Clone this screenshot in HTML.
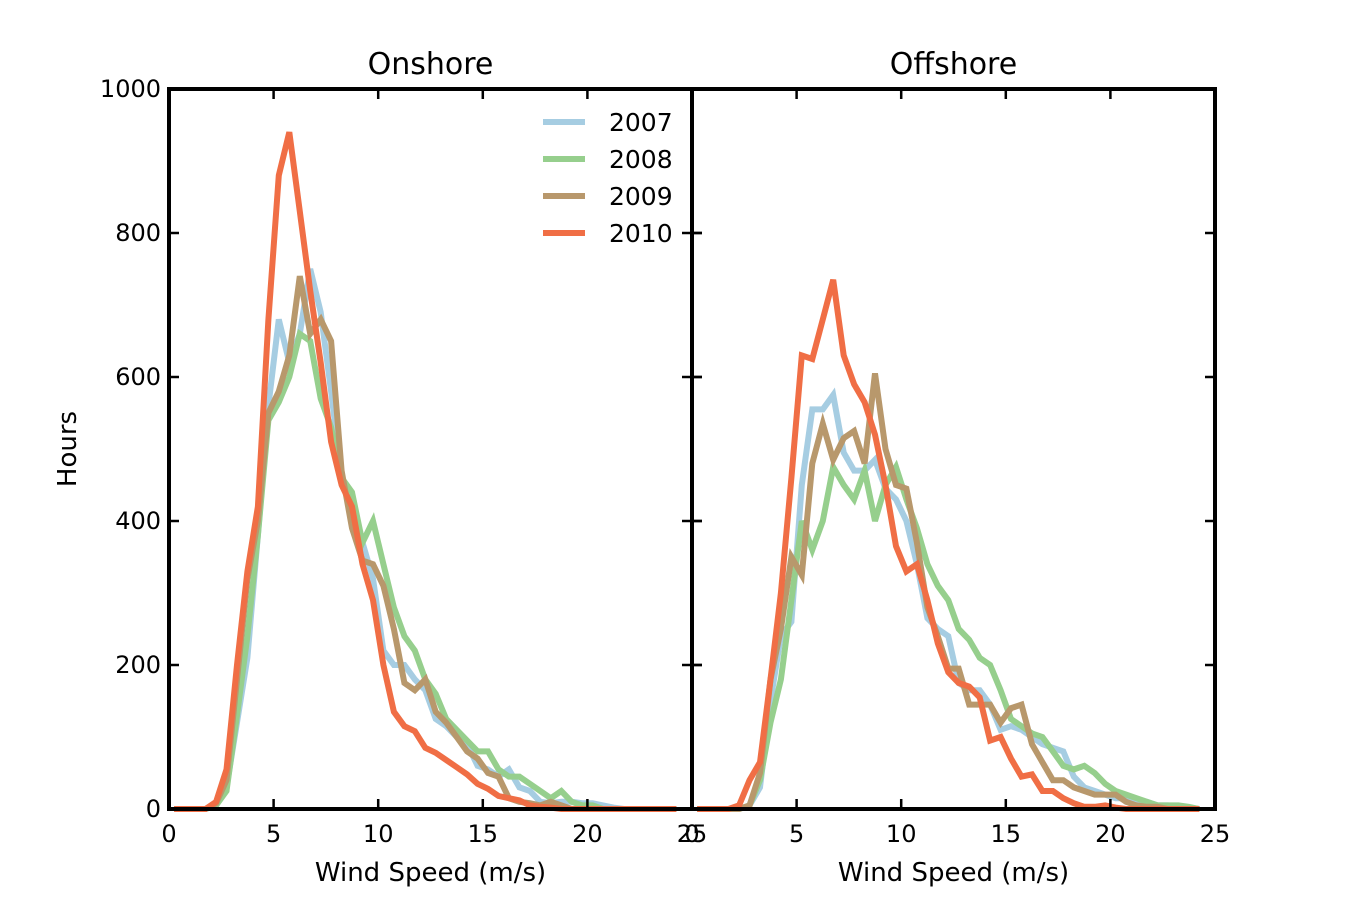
<!DOCTYPE html>
<html><head><meta charset="utf-8"><style>
body{margin:0;background:#fff}
svg{display:block}
text{font-family:"DejaVu Sans","Liberation Sans",sans-serif;fill:#000}
</style></head><body>
<svg id="chart" width="1350" height="900"></svg>
<script>
const speeds = Array.from({length:49},(_,i)=>0.25+0.5*i);
const series = ['2007','2008','2009','2010'];
const colors = ['#a6cde2','#96cf8d','#b8986c','#f06e45'];
const onshore2007=[0,0,0,0,5,30,120,210,380,560,680,620,660,750,690,580,460,420,370,320,220,200,200,180,165,125,115,100,90,60,55,45,55,30,25,10,8,10,10,8,8,5,2,0,0,0,0,0,0];
const onshore2008=[0,0,0,0,5,25,130,240,380,540,565,600,660,650,570,530,460,440,370,400,340,280,240,220,180,160,125,110,95,80,80,55,45,45,35,25,15,25,10,5,5,0,0,0,0,0,0,0,0];
const onshore2009=[0,0,0,0,8,40,180,320,400,550,580,630,740,660,680,650,470,390,345,340,310,250,175,165,180,135,120,100,80,70,50,45,15,10,8,5,10,5,0,0,0,0,0,0,0,0,0,0,0];
const onshore2010=[0,0,0,0,10,55,200,330,420,680,880,940,830,720,620,510,450,420,340,290,200,135,115,108,85,78,68,58,48,35,28,18,15,12,5,3,2,0,0,0,0,0,0,0,0,0,0,0,0];
const offshore2007=[0,0,0,0,0,5,30,150,240,260,450,555,555,575,495,470,470,485,445,430,400,340,265,250,240,175,165,165,145,110,115,110,100,90,85,80,45,30,25,20,15,15,12,10,5,5,3,2,0];
const offshore2008=[0,0,0,0,0,5,40,120,180,290,400,360,400,475,450,430,470,400,450,475,430,390,340,310,290,250,235,210,200,165,125,115,105,100,80,60,55,60,50,35,25,20,15,10,5,5,5,3,0];
const offshore2009=[0,0,0,0,0,5,50,180,250,350,325,480,535,485,515,525,480,605,500,450,445,370,280,240,195,195,145,145,145,120,140,145,90,65,40,40,30,25,20,20,20,10,5,3,3,0,0,0,0];
const offshore2010=[0,0,0,0,5,40,65,180,300,460,630,625,680,735,630,590,565,520,450,365,330,340,290,230,190,175,170,155,95,100,70,45,48,25,25,15,8,3,3,5,2,0,0,0,0,0,0,0,0];
const xTicks=[0,5,10,15,20,25];
const yTicks=[0,200,400,600,800,1000];
const panels=[{name:'onshore',title:'Onshore',x0:169,data:[onshore2007,onshore2008,onshore2009,onshore2010]},
              {name:'offshore',title:'Offshore',x0:692,data:[offshore2007,offshore2008,offshore2009,offshore2010]}];
const W=523, plotTop=89, plotBottom=809;
const svg=document.getElementById('chart');
const NS='http://www.w3.org/2000/svg';
function mk(tag,attrs,parent){const e=document.createElementNS(NS,tag);for(const k in attrs)e.setAttribute(k,attrs[k]);(parent||svg).appendChild(e);return e;}
const yS=v=>plotBottom-(v/1000)*(plotBottom-plotTop);
panels.forEach((p,pi)=>{
  const xS=v=>p.x0+(v/25)*W;
  const g=mk('g',{});
  
  
  p.data.forEach((arr,si)=>{
    const pts=arr.map((v,i)=>xS(speeds[i]).toFixed(1)+','+yS(v).toFixed(1)).join(' ');
    const l=mk('polyline',{points:pts,fill:'none',stroke:colors[si],'stroke-width':6,'stroke-linejoin':'miter'},g);
    
    
  });
  mk('rect',{x:p.x0,y:plotTop,width:W,height:plotBottom-plotTop,fill:'none',stroke:'#000','stroke-width':4},g);
  xTicks.forEach(t=>{
    const x=xS(t);
    mk('line',{x1:x,x2:x,y1:plotBottom,y2:plotBottom-10,stroke:'#000','stroke-width':2.5},g);
    mk('line',{x1:x,x2:x,y1:plotTop,y2:plotTop+10,stroke:'#000','stroke-width':2.5},g);
    const tx=mk('text',{x:x,y:842,'text-anchor':'middle','font-size':24},g);
    tx.textContent=t;
    
    
  });
  yTicks.forEach(t=>{
    const y=yS(t);
    mk('line',{x1:p.x0,x2:p.x0+10,y1:y,y2:y,stroke:'#000','stroke-width':2.5},g);
    mk('line',{x1:p.x0+W,x2:p.x0+W-10,y1:y,y2:y,stroke:'#000','stroke-width':2.5},g);
    if(pi===0){
      mk('line',{x1:p.x0+W,x2:p.x0+W+10,y1:y,y2:y,stroke:'#000','stroke-width':2.5},g);
      const ty=mk('text',{x:p.x0-8,y:y+8,'text-anchor':'end','font-size':24},g);
      ty.textContent=t;
      
      
    }
  });
  const tt=mk('text',{x:p.x0+W/2,y:74,'text-anchor':'middle','font-size':30},g);
  tt.textContent=p.title;
  
  
  const xl=mk('text',{x:p.x0+W/2,y:881,'text-anchor':'middle','font-size':26},g);
  xl.textContent='Wind Speed (m/s)';
  
  
});
const yl=mk('text',{x:0,y:0,'text-anchor':'middle','font-size':26,transform:'translate(76,449) rotate(-90)'});
yl.textContent='Hours';


const lg=mk('g',{});


series.forEach((s,i)=>{
  const y=122+i*37;
  const ln=mk('line',{x1:543,x2:585,y1:y,y2:y,stroke:colors[i],'stroke-width':6},lg);
  
  
  const t=mk('text',{x:609,y:y+9,'font-size':25},lg);
  t.textContent=s;
  
  
});
</script>
</body></html>
